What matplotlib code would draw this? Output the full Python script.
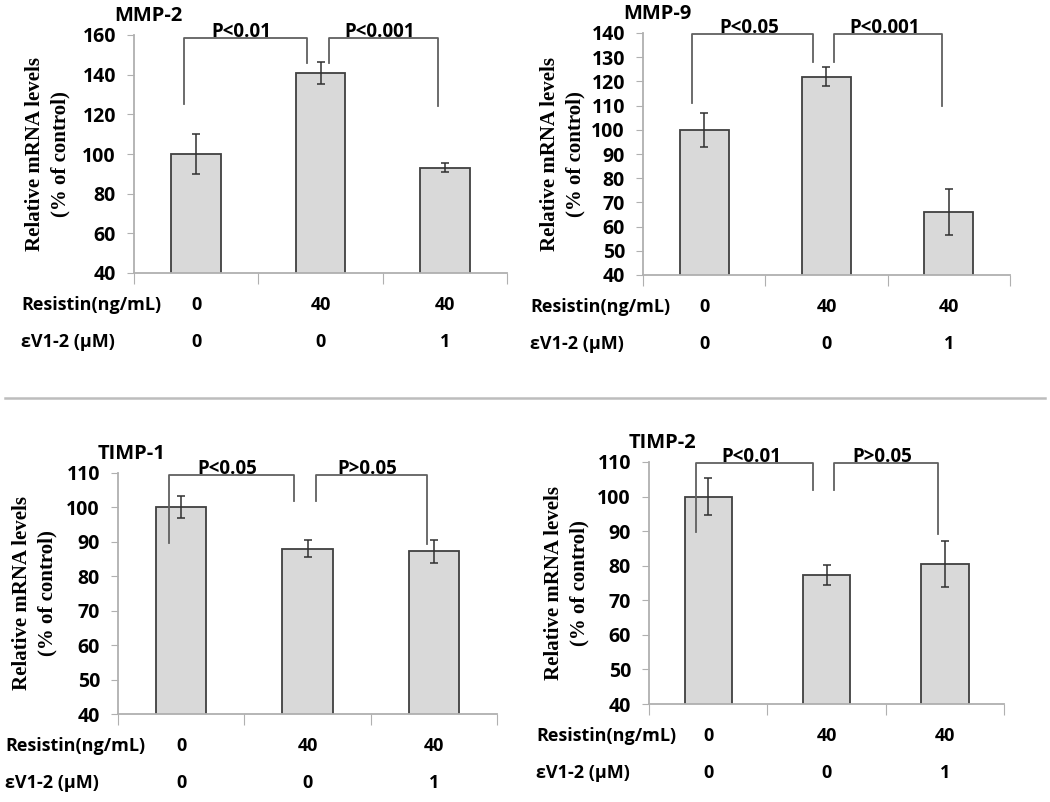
import matplotlib
matplotlib.use('Agg')
import matplotlib.pyplot as plt
import numpy as np

plt.rcParams['font.family'] = ['Open Sans', 'DejaVu Sans']
plt.rcParams['font.weight'] = 'bold'

# 数据
genes = ['MMP-2', 'MMP-9', 'TIMP-1', 'TIMP-2']
resistin = ['0', '40', '40']
ev12 = ['0', '0', '1']
mmp2 = [100, 141, 93]
mmp2_err = [10, 5.5, 2.3]
mmp9 = [100, 122, 66]
mmp9_err = [7, 4, 9.5]
timp1 = [100, 88, 87.3]
timp1_err = [3.2, 2.5, 3.3]
timp2 = [100, 77.3, 80.5]
timp2_err = [5.3, 3.0, 6.7]
p_left = ['P<0.01', 'P<0.05', 'P<0.05', 'P<0.01']
p_right = ['P<0.001', 'P<0.001', 'P>0.05', 'P>0.05']
# 括号高度：(左腿底, 右腿底, 顶)
br_left = [(125, 146, 158.5), (111, 128, 139.6), (89.6, 101.8, 109.4), (89.8, 102, 109.7)]
br_right = [(146, 124, 158.5), (128, 110, 139.6), (101.8, 89.5, 109.4), (102, 89.2, 109.7)]
ylims = [(40, 160), (40, 140), (40, 110), (40, 110)]
ysteps = [20, 10, 10, 10]

values = [mmp2, mmp9, timp1, timp2]
errors = [mmp2_err, mmp9_err, timp1_err, timp2_err]

W, H = 1050, 802
fig = plt.figure(figsize=(W / 100, H / 100), dpi=100)

# 每个子图的像素框 (left, right, top, bottom)
boxes = [(134, 507, 35, 273), (643, 1010, 33, 275), (118, 497, 473, 714), (649, 1004, 462, 704)]
ylab_off = [-86, -80, -83, -82]

axis_gray = '#b0b0b0'
x = np.arange(3)
fs = 13

for i in range(4):
    l, r, t, b = boxes[i]
    ax = fig.add_axes([l / W, 1 - b / H, (r - l) / W, (b - t) / H])
    ax.bar(x, values[i], width=0.4, bottom=0, color='#d9d9d9', edgecolor='#404040', linewidth=1.3,
           yerr=errors[i], error_kw=dict(ecolor='#303030', elinewidth=1.1, capsize=3, capthick=1.1), zorder=2)
    ax.set_xlim(-0.5, 2.5)
    ax.set_ylim(*ylims[i])
    ax.set_yticks(np.arange(ylims[i][0], ylims[i][1] + 1, ysteps[i]))
    ax.tick_params(axis='y', direction='out', length=5, color=axis_gray, labelsize=14, pad=8)
    for lab in ax.get_yticklabels():
        lab.set_fontweight('bold')
    ax.set_xticks([-0.5, 0.5, 1.5, 2.5])
    ax.set_xticklabels([])
    ax.tick_params(axis='x', direction='out', length=8, color=axis_gray)
    for s in ['top', 'right']:
        ax.spines[s].set_visible(False)
    for s in ['left', 'bottom']:
        ax.spines[s].set_color(axis_gray)
        ax.spines[s].set_linewidth(1.3)

    # 括号
    for (x1, x2), (yl, yr, yt), txt in [((-0.1, 0.89), br_left[i], p_left[i]),
                                         ((1.065, 1.945), br_right[i], p_right[i])]:
        ax.plot([x1, x1, x2, x2], [yl, yt, yt, yr], color='#606060', lw=1.3, clip_on=False, zorder=3)
        ax.annotate(txt, xy=((x1 + x2) / 2 - 0.03, yt), xytext=(0, -4), textcoords='offset pixels',
                    ha='center', va='bottom', fontsize=13.5, fontweight='bold', annotation_clip=False)

    # 标题
    ax.annotate(genes[i], xy=(0, 1), xycoords='axes fraction', xytext=(-20, 19), textcoords='offset pixels',
                ha='left', va='center', fontsize=14.5, fontweight='bold')

    # y轴标签
    ax.annotate('Relative mRNA levels\n(% of control)', xy=(0, 0.5), xycoords='axes fraction',
                xytext=(ylab_off[i], 0), textcoords='offset pixels', rotation=90, ha='center', va='center',
                family='Liberation Serif', fontsize=15, fontweight='bold', linespacing=1.35)

    # 条件行
    ax.annotate('Resistin(ng/mL)', xy=(0, 0), xycoords='axes fraction', xytext=(-113, -32),
                textcoords='offset pixels', ha='left', va='center', fontsize=fs, fontweight='bold')
    ax.annotate('εV1-2 (μM)', xy=(0, 0), xycoords='axes fraction', xytext=(-113, -69),
                textcoords='offset pixels', ha='left', va='center', fontsize=fs, fontweight='bold')
    for j in range(3):
        ax.annotate(resistin[j], xy=(x[j], 0), xycoords=('data', 'axes fraction'), xytext=(0, -32),
                    textcoords='offset pixels', ha='center', va='center', fontsize=fs, fontweight='bold')
        ax.annotate(ev12[j], xy=(x[j], 0), xycoords=('data', 'axes fraction'), xytext=(0, -69),
                    textcoords='offset pixels', ha='center', va='center', fontsize=fs, fontweight='bold')

# 分隔线
fig.add_artist(plt.Line2D([5 / W, 1045 / W], [1 - 398 / H, 1 - 398 / H], color='#bdbdbd', lw=1.8))

fig.savefig('out.png', dpi=100)
